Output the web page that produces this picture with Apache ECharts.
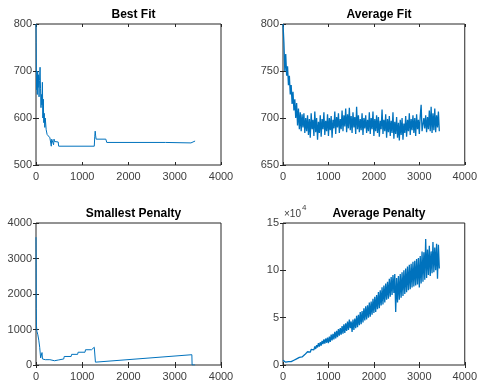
<!DOCTYPE html>
<html>
<head>
<meta charset="utf-8">
<script src="https://cdn.jsdelivr.net/npm/echarts@6/dist/echarts.min.js"></script>
<style>
    html, body { margin: 0; padding: 0; background: #fff; }
    #chart { width: 480px; height: 385px; }
</style>
</head>
<body>
<div id="chart"></div>
<script>
// best fit per iteration: [iteration, value]
var bestFit = [
    [0, 800], [4, 760], [8, 700], [14, 660], [20, 690], [28, 650], [36, 700], [46, 665], [56, 692],
    [66, 645], [76, 680], [88, 708], [98, 662], [108, 622], [118, 650], [128, 628], [138, 676],
    [148, 600], [158, 640], [168, 590], [178, 610], [190, 580], [200, 600], [220, 575], [240, 565],
    [260, 562], [280, 566], [300, 558], [320, 560], [330, 540], [340, 555], [360, 552], [380, 543],
    [390, 555], [400, 550], [480, 549], [490, 540], [1260, 540], [1270, 560], [1280, 572],
    [1290, 562], [1300, 555], [1510, 555], [1530, 548], [2800, 548], [2810, 547], [3350, 547],
    [3380, 550], [3440, 551]
];

// smallest penalty per iteration: [iteration, value]
var smallestPenalty = [
    [0, 3600], [3, 3000], [6, 1600], [10, 1100], [20, 950], [40, 850], [60, 700], [80, 500],
    [100, 200], [120, 180], [130, 350], [140, 170], [160, 160], [200, 150], [300, 150], [320, 120],
    [340, 150], [400, 120], [430, 110], [480, 140], [500, 170], [600, 170], [610, 240], [760, 240],
    [770, 300], [900, 300], [910, 360], [1060, 360], [1070, 430], [1200, 430], [1220, 480],
    [1260, 500], [1275, 480], [1285, 80], [3370, 290], [3375, 0], [3440, 0]
];

// average fit, one value every 20 iterations
var avgFitStep = 20;
var avgFit = [
    800, 780, 750, 768, 745, 755, 735, 745, 725, 735,
    715, 728, 708, 720, 700, 716, 692, 710, 688, 706,
    686, 704, 690, 705, 684, 700, 686, 703, 682, 699,
    679, 705, 688, 698, 681, 707, 685, 700, 677, 696,
    684, 703, 680, 699, 688, 706, 682, 697, 686, 704,
    681, 700, 687, 702, 679, 698, 689, 707, 683, 701,
    690, 705, 684, 699, 688, 708, 686, 703, 691, 710,
    685, 704, 689, 711, 687, 702, 684, 706, 690, 701,
    683, 712, 688, 703, 685, 699, 687, 705, 682, 700,
    689, 703, 684, 698, 686, 706, 683, 700, 688, 707,
    681, 699, 686, 703, 684, 701, 680, 697, 688, 709,
    683, 698, 686, 704, 679, 699, 685, 702, 681, 697,
    684, 706, 678, 696, 683, 701, 679, 695, 676, 698,
    682, 700, 677, 694, 684, 702, 680, 698, 686, 705,
    682, 699, 687, 703, 684, 700, 681, 704, 688, 698,
    683, 702, 714, 686, 684, 700, 689, 703, 685, 701,
    688, 708, 686, 712, 684, 705, 687, 710, 685, 703,
    690, 707, 686
];

// average penalty (x 10^4), one value every 20 iterations
var avgPenaltyStep = 20;
var avgPenalty = [
    0.5, 0.4, 0.3, 0.3, 0.25, 0.3, 0.35, 0.3, 0.4, 0.35,
    0.45, 0.4, 0.5, 0.55, 0.6, 0.65, 0.7, 0.6, 0.8, 0.75,
    0.9, 0.85, 1.0, 0.95, 1.1, 1.3, 1.1, 1.4, 1.25, 1.5,
    1.35, 1.65, 1.45, 1.8, 1.6, 1.95, 1.7, 2.1, 1.85, 2.3,
    1.95, 2.4, 2.05, 2.55, 2.2, 2.7, 2.25, 2.8, 2.35, 2.9,
    2.3, 3.0, 2.45, 3.2, 2.6, 3.3, 2.7, 3.5, 2.8, 3.6,
    2.95, 3.8, 3.1, 3.9, 3.2, 4.1, 3.3, 4.3, 3.4, 4.4,
    3.6, 4.6, 3.7, 4.8, 3.9, 4.6, 3.5, 4.8, 3.7, 4.9,
    3.9, 5.2, 4.0, 5.3, 4.2, 5.6, 4.3, 5.7, 4.5, 6.0,
    4.7, 6.2, 4.8, 6.3, 5.0, 6.6, 5.1, 6.7, 5.3, 7.0,
    5.5, 7.2, 5.6, 7.4, 5.9, 7.7, 6.0, 7.9, 6.3, 8.2,
    6.4, 8.4, 6.6, 8.6, 6.9, 8.8, 7.0, 9.1, 7.2, 9.3,
    7.4, 9.5, 7.6, 9.6, 5.6, 9.2, 6.6, 9.4, 6.9, 9.6,
    7.1, 9.8, 7.3, 10.0, 7.5, 10.2, 7.7, 10.4, 7.9, 10.6,
    8.0, 10.7, 8.2, 10.9, 8.3, 11.0, 8.4, 11.2, 8.5, 11.3,
    8.2, 11.5, 8.6, 12.0, 8.8, 11.9, 9.0, 13.3, 9.2, 12.2,
    9.5, 12.6, 9.4, 12.0, 9.7, 13.0, 9.8, 12.4, 10.0, 12.8,
    9.1, 12.7, 10.2
];

var titles = ['Best Fit', 'Average Fit', 'Smallest Penalty', 'Average Penalty'];
var xRange = [0, 4000, 1000];
var yRanges = [[500, 800, 100], [650, 800, 50], [0, 4000, 1000], [0, 15, 5]];

(function () {
    var lineColor = '#0072BD';
    var axisColor = '#262626';
    var labelColor = '#404040';
    var font = 'Liberation Sans, Arial, Helvetica, sans-serif';

    var grids = [
        { left: 36, top: 24, width: 185, height: 141 },
        { left: 283, top: 24, width: 182, height: 141 },
        { left: 36, top: 223, width: 185, height: 142 },
        { left: 283, top: 223, width: 182, height: 142 }
    ];

    function toPairs(values, step) {
        return values.map(function (v, i) { return [i * step, v]; });
    }

    function plain(v) { return String(v); }

    var seriesData = [
        bestFit,
        toPairs(avgFit, avgFitStep),
        smallestPenalty,
        toPairs(avgPenalty, avgPenaltyStep)
    ];
    var noisy = [false, true, false, true];

    var xAxes = [], yAxes = [], series = [], titleOpts = [];

    grids.forEach(function (g, i) {
        g.show = true;
        g.borderColor = axisColor;
        g.borderWidth = 1;
        g.backgroundColor = '#fff';

        var tick = { show: true, inside: true, length: 3, lineStyle: { color: axisColor } };

        // main axes with labels
        xAxes.push({
            type: 'value', gridIndex: i, min: xRange[0], max: xRange[1], interval: xRange[2],
            axisLine: { show: false }, axisTick: tick, splitLine: { show: false },
            axisLabel: { color: labelColor, fontSize: 11, fontFamily: font, margin: 6, formatter: plain }
        });
        yAxes.push({
            type: 'value', gridIndex: i, min: yRanges[i][0], max: yRanges[i][1], interval: yRanges[i][2],
            axisLine: { show: false }, axisTick: tick, splitLine: { show: false },
            axisLabel: { color: labelColor, fontSize: 11, fontFamily: font, margin: 4, formatter: plain }
        });
        // mirrored ticks on top and right
        xAxes.push({
            type: 'value', gridIndex: i, position: 'top', min: xRange[0], max: xRange[1], interval: xRange[2],
            axisLine: { show: false }, axisTick: tick, splitLine: { show: false },
            axisLabel: { show: false }
        });
        yAxes.push({
            type: 'value', gridIndex: i, position: 'right', min: yRanges[i][0], max: yRanges[i][1], interval: yRanges[i][2],
            axisLine: { show: false }, axisTick: tick, splitLine: { show: false },
            axisLabel: { show: false }
        });

        series.push({
            type: 'line',
            xAxisIndex: i * 2,
            yAxisIndex: i * 2,
            data: seriesData[i],
            showSymbol: false,
            symbol: 'none',
            clip: true,
            lineStyle: { color: lineColor, width: noisy[i] ? 1.3 : 1 },
            emphasis: { disabled: true }
        });

        titleOpts.push({
            text: titles[i],
            left: g.left + g.width / 2,
            top: g.top - 20,
            textAlign: 'center',
            textStyle: { fontSize: 12, fontWeight: 'bold', color: '#000', fontFamily: font }
        });
    });

    var chart = echarts.init(document.getElementById('chart'));
    chart.setOption({
        animation: false,
        title: titleOpts,
        grid: grids,
        xAxis: xAxes,
        yAxis: yAxes,
        series: series,
        graphic: [
            { type: 'text', left: 284, top: 209, style: { text: '×10', fontSize: 10, fill: labelColor, fontFamily: font } },
            { type: 'text', left: 302, top: 204, style: { text: '4', fontSize: 8, fill: labelColor, fontFamily: font } }
        ]
    });
})();
</script>
</body>
</html>
